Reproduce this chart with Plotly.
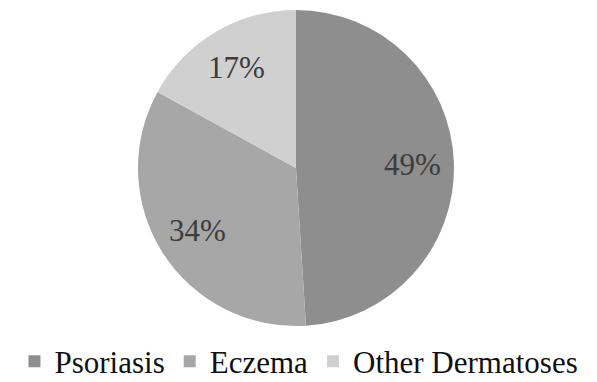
import math
import plotly.graph_objects as go

labels = ["Psoriasis", "Eczema", "Other Dermatoses"]
values = [49, 34, 17]
colors = ["#8e8e8e", "#a7a7a7", "#d0d0d0"]

W, H = 597, 382
M = dict(l=0, r=5, t=10, b=56)
plot_w = W - M["l"] - M["r"]
plot_h = H - M["t"] - M["b"]
R = min(plot_w, plot_h) / 2
label_r = 0.74 * R

fig = go.Figure(go.Pie(
    labels=labels,
    values=values,
    sort=False,
    direction="clockwise",
    rotation=0,
    marker=dict(colors=colors, line=dict(width=0)),
    textinfo="none",
    hoverinfo="skip",
))

# percentage labels placed at each slice's mid-angle
total = sum(values)
cum = 0
annotations = []
for v in values:
    mid = (cum + v / 2) / total * 2 * math.pi
    cum += v
    x = 0.5 + label_r * math.sin(mid) / plot_w
    y = 0.5 + label_r * math.cos(mid) / plot_h
    annotations.append(dict(
        x=x, y=y, xref="paper", yref="paper",
        text=f"{round(v / total * 100)}%", showarrow=False,
        xanchor="center", yanchor="middle",
        font=dict(family="Liberation Serif", size=31, color="#3c3c3c"),
    ))

fig.update_layout(
    width=W, height=H,
    margin=dict(**M, autoexpand=False),
    paper_bgcolor="white",
    plot_bgcolor="white",
    showlegend=True,
    annotations=annotations,
    legend=dict(
        orientation="h",
        x=0.505, xanchor="center",
        y=-0.113, yanchor="middle",
        font=dict(family="Liberation Serif", size=31, color="#111111"),
        itemwidth=30,
        traceorder="normal",
    ),
)

fig.write_html("out.html")
